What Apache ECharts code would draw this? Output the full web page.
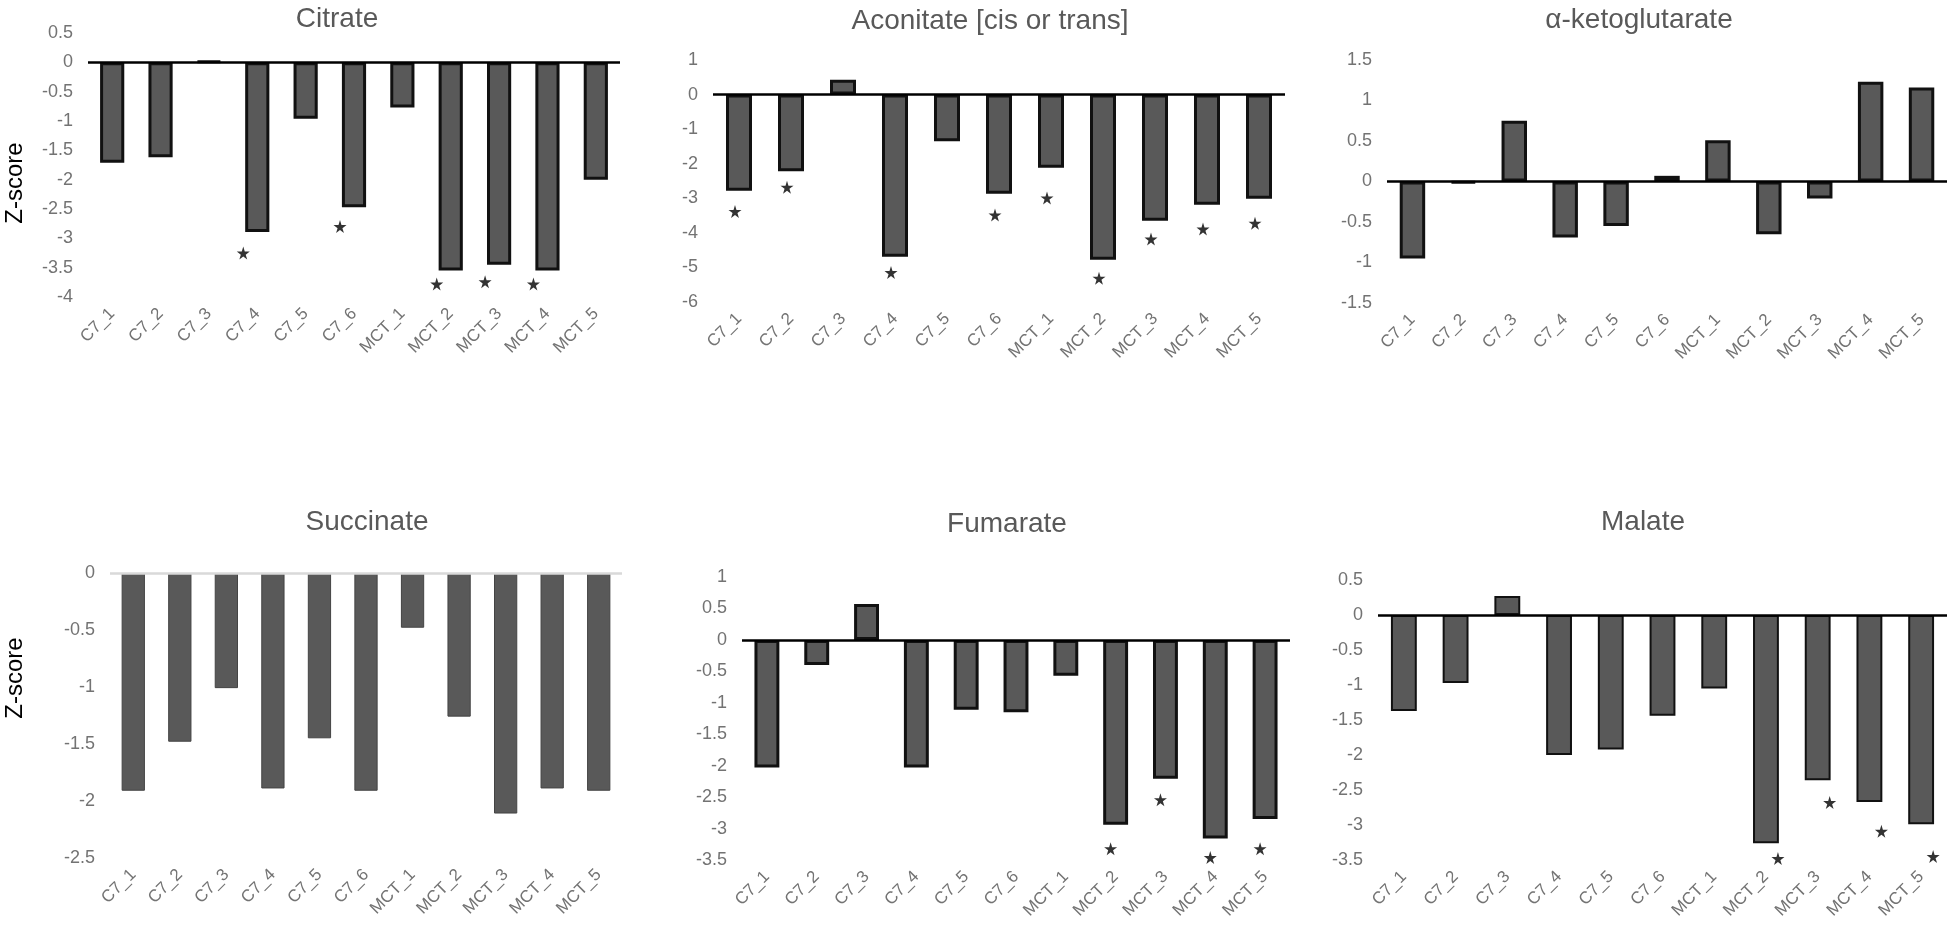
<!DOCTYPE html>
<html>
<head>
<meta charset="utf-8">
<script src="https://cdn.jsdelivr.net/npm/echarts@6/dist/echarts.min.js"></script>
<style>
  body { margin: 0; background: #fff; }
  #tca_chart { width: 1950px; height: 938px; }
</style>
</head>
<body>
<div id="tca_chart"></div>
<script>
var categories = ['C7_1', 'C7_2', 'C7_3', 'C7_4', 'C7_5', 'C7_6', 'MCT_1', 'MCT_2', 'MCT_3', 'MCT_4', 'MCT_5'];

// z-scores, stars = position of the significance mark
var citrate = [-1.71, -1.62, 0.02, -2.89, -0.96, -2.47, -0.77, -3.55, -3.45, -3.55, -2.0];
var citrateStars = [null, null, null, -3.25, null, -2.8, null, -3.78, -3.74, -3.78, null];
var citrateTicks = [-4, 0.5, 0.5];

var aconitate = [-2.78, -2.22, 0.43, -4.69, -1.35, -2.87, -2.12, -4.78, -3.65, -3.19, -3.01];
var aconitateStars = [-3.38, -2.68, null, -5.15, null, -3.48, -2.99, -5.31, -4.18, -3.89, -3.72];
var aconitateTicks = [-6, 1, 1];

var ketoglutarate = [-0.95, -0.02, 0.75, -0.69, -0.55, 0.07, 0.51, -0.65, -0.21, 1.23, 1.16];
var ketoglutarateStars = [null, null, null, null, null, null, null, null, null, null, null];
var ketoglutarateTicks = [-1.5, 1.5, 0.5];

var succinate = [-1.91, -1.48, -1.01, -1.89, -1.45, -1.91, -0.48, -1.26, -2.11, -1.89, -1.91];
var succinateStars = [null, null, null, null, null, null, null, null, null, null, null];
var succinateTicks = [-2.5, 0, 0.5];

var fumarate = [-2.03, -0.40, 0.57, -2.03, -1.11, -1.15, -0.57, -2.94, -2.21, -3.16, -2.85];
var fumarateStars = [null, null, null, null, null, null, null, -3.32, -2.54, -3.46, -3.32];
var fumarateTicks = [-3.5, 1, 0.5];

var malate = [-1.37, -0.97, 0.27, -2.00, -1.92, -1.44, -1.05, -3.26, -2.36, -2.67, -2.99];
var malateStars = [null, null, null, null, null, null, null, -3.48, -2.68, -3.09, -3.45];
var malateTicks = [-3.5, 0.5, 0.5];

var STAR = 'path://M50,0 L61,35 L98,35 L68,57 L79,91 L50,70 L21,91 L32,57 L2,35 L39,35 Z';

window.onload = function () {
    tca_chart();
};

function tca_chart() {
    var chart = echarts.init(document.getElementById('tca_chart'));

    var panels = [
        { title: 'Citrate', values: citrate, stars: citrateStars, ticks: citrateTicks,
          grid: { left: 88, right: 1330, top: 33, bottom: 641 }, tx: 332, ty: 0, starOff: -14, border: 3, zero: '#000' },
        { title: 'Aconitate [cis or trans]', values: aconitate, stars: aconitateStars, ticks: aconitateTicks,
          grid: { left: 713, right: 665, top: 60, bottom: 636 }, tx: 985, ty: 2, starOff: -4, border: 3, zero: '#000' },
        { title: 'α-ketoglutarate', values: ketoglutarate, stars: ketoglutarateStars, ticks: ketoglutarateTicks,
          grid: { left: 1387, right: 3, top: 60, bottom: 635 }, tx: 1634, ty: 1, starOff: 0, border: 3, zero: '#000' },
        { title: 'Succinate', values: succinate, stars: succinateStars, ticks: succinateTicks,
          grid: { left: 110, right: 1328, top: 573, bottom: 80 }, tx: 362, ty: 503, starOff: 0, border: 1, zero: '#d9d9d9' },
        { title: 'Fumarate', values: fumarate, stars: fumarateStars, ticks: fumarateTicks,
          grid: { left: 742, right: 660, top: 577, bottom: 78 }, tx: 1002, ty: 505, starOff: -5, border: 3, zero: '#000' },
        { title: 'Malate', values: malate, stars: malateStars, ticks: malateTicks,
          grid: { left: 1378, right: 3, top: 580, bottom: 78 }, tx: 1638, ty: 503, starOff: 12, border: 2, zero: '#000' }
    ];

    var titles = [], grids = [], xAxes = [], yAxes = [], series = [];

    for (var i = 0; i < panels.length; i++) {
        var p = panels[i];
        titles.push({
            text: p.title, left: p.tx, top: p.ty, textAlign: 'center',
            textStyle: { fontFamily: 'Liberation Sans', fontSize: 28, fontWeight: 'normal', color: '#595959' }
        });
        grids.push(p.grid);
        xAxes.push({
            type: 'category', gridIndex: i, data: categories,
            axisLine: { show: false }, axisTick: { show: false },
            axisLabel: { interval: 0, rotate: 45, margin: 14, color: '#737373', fontFamily: 'Liberation Sans', fontSize: 17 }
        });
        yAxes.push({
            type: 'value', gridIndex: i,
            min: p.ticks[0], max: p.ticks[1], interval: p.ticks[2],
            axisLine: { show: false }, axisTick: { show: false }, splitLine: { show: false },
            axisLabel: { margin: 15, color: '#737373', fontFamily: 'Liberation Sans', fontSize: 18 }
        });
        series.push({
            type: 'bar', xAxisIndex: i, yAxisIndex: i, data: p.values,
            barWidth: '50%',
            itemStyle: { color: '#595959', borderColor: p.border > 1 ? '#111' : '#444', borderWidth: p.border },
            markLine: {
                silent: true, symbol: ['none', 'none'], label: { show: false },
                lineStyle: { color: p.zero, width: 2.5, type: 'solid' },
                data: [{ yAxis: 0 }]
            }
        });
        series.push({
            type: 'scatter', xAxisIndex: i, yAxisIndex: i, data: p.stars,
            symbol: STAR, symbolSize: 13, symbolOffset: [p.starOff, 0],
            itemStyle: { color: '#000' }
        });
    }

    var option = {
        animation: false,
        title: titles,
        grid: grids,
        xAxis: xAxes,
        yAxis: yAxes,
        series: series,
        graphic: [
            { type: 'text', x: 15, y: 183, rotation: Math.PI / 2,
              style: { text: 'Z-score', fontFamily: 'Liberation Sans', fontSize: 24, fill: '#000', align: 'center', verticalAlign: 'middle' } },
            { type: 'text', x: 15, y: 678, rotation: Math.PI / 2,
              style: { text: 'Z-score', fontFamily: 'Liberation Sans', fontSize: 24, fill: '#000', align: 'center', verticalAlign: 'middle' } }
        ]
    };
    chart.setOption(option);
}
</script>
</body>
</html>
